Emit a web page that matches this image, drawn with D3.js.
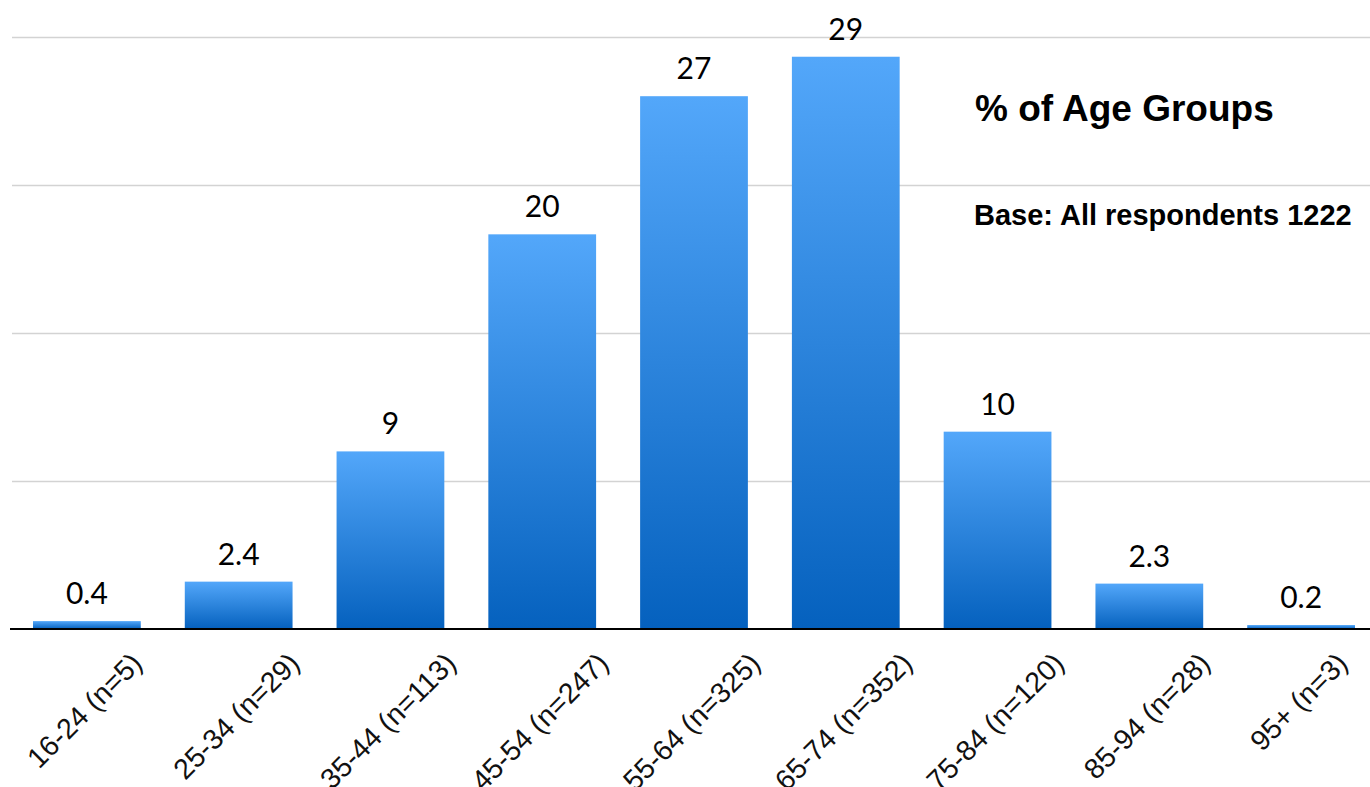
<!DOCTYPE html>
<html>
<head>
<meta charset="utf-8">
<script src="https://cdn.jsdelivr.net/npm/d3@7"></script>
<style>
  html, body { margin: 0; padding: 0; background: #ffffff; }
  svg { display: block; }
</style>
</head>
<body>
<svg id="chart" width="1370" height="787"></svg>
<script>
const categories = ["16-24 (n=5)", "25-34 (n=29)", "35-44 (n=113)", "45-54 (n=247)", "55-64 (n=325)", "65-74 (n=352)", "75-84 (n=120)", "85-94 (n=28)", "95+ (n=3)"];
const values = [0.4, 2.4, 9, 20, 27, 29, 10, 2.3, 0.2];
const valueLabels = ["0.4", "2.4", "9", "20", "27", "29", "10", "2.3", "0.2"];
const gridTicks = [7.5, 15, 22.5, 30];
const title = "% of Age Groups";
const subtitle = "Base: All respondents 1222";

const svg = d3.select("#chart");
const W = 1370, H = 787;

const x = d3.scaleBand().domain(categories).range([11, 1377]).paddingInner(0.29).paddingOuter(0.145);
const y = d3.scaleLinear().domain([0, 30]).range([629, 37]);

const defs = svg.append("defs");
const grad = defs.append("linearGradient").attr("id", "barGrad")
  .attr("x1", 0).attr("y1", 0).attr("x2", 0).attr("y2", 1);
grad.append("stop").attr("offset", "0%").attr("stop-color", "#53a7fa");
grad.append("stop").attr("offset", "100%").attr("stop-color", "#0561be");

// gridlines
svg.append("g").selectAll("line").data(gridTicks).join("line")
  .attr("x1", 12).attr("x2", W)
  .attr("y1", d => Math.round(y(d)) + 0.5).attr("y2", d => Math.round(y(d)) + 0.5)
  .attr("stroke", "#d3d3d3").attr("stroke-width", 1.3);

// bars
svg.append("g").selectAll("rect").data(values).join("rect")
  .attr("x", (d, i) => x(categories[i]))
  .attr("width", x.bandwidth())
  .attr("y", d => y(d))
  .attr("height", d => y(0) - y(d))
  .attr("fill", "url(#barGrad)");

// baseline
svg.append("line").attr("x1", 10).attr("x2", W)
  .attr("y1", y(0)).attr("y2", y(0))
  .attr("stroke", "#000").attr("stroke-width", 2);

// value labels
svg.append("g").selectAll("text").data(values).join("text")
  .attr("x", (d, i) => x(categories[i]) + x.bandwidth() / 2)
  .attr("y", d => y(d) - 17)
  .attr("text-anchor", "middle")
  .attr("font-family", "Lato, 'Liberation Sans', sans-serif")
  .attr("font-weight", 400)
  .attr("font-size", 30)
  .attr("fill", "#000")
  .text((d, i) => valueLabels[i]);

// category labels: rotated, bounding box centred on bar, tops aligned
const labels = svg.append("g").selectAll("text").data(categories).join("text")
  .attr("text-anchor", "middle")
  .attr("font-family", "'Liberation Sans', Arial, sans-serif")
  .attr("font-size", 28.5)
  .attr("fill", "#111")
  .text(d => d);
labels.each(function(d) {
  const L = this.getComputedTextLength();
  const cx = x(d) + x.bandwidth() / 2 + 4.5;
  const cy = 665 + 0.3536 * L;
  d3.select(this).attr("transform", `translate(${cx},${cy}) rotate(-45)`);
});

// title & subtitle
svg.append("text").attr("x", 975).attr("y", 121)
  .attr("font-family", "'Liberation Sans', Arial, sans-serif")
  .attr("font-weight", "bold").attr("font-size", 37)
  .attr("fill", "#000").text(title);
svg.append("text").attr("x", 974).attr("y", 225)
  .attr("font-family", "'Liberation Sans', Arial, sans-serif")
  .attr("font-weight", "bold").attr("font-size", 29)
  .attr("fill", "#000").text(subtitle);
</script>
</body>
</html>
